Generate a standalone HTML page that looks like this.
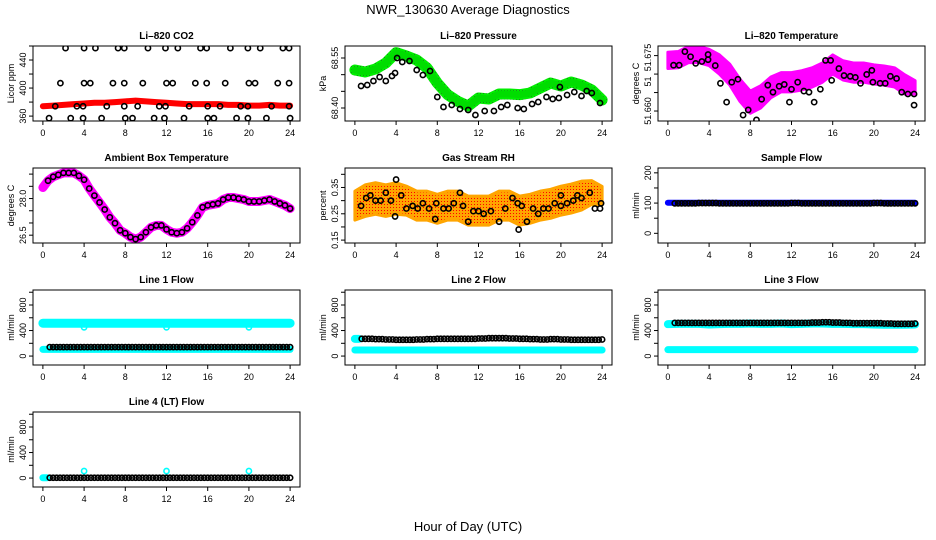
<!DOCTYPE html>
<html><head><meta charset="utf-8"><style>
html,body{margin:0;padding:0;background:#fff;}
svg{display:block;font-family:"Liberation Sans",sans-serif;}
</style></head><body>
<svg id="chart" width="936" height="540" viewBox="0 0 936 540" xmlns="http://www.w3.org/2000/svg">
<defs>
<pattern id="rhpat" width="3" height="3" patternUnits="userSpaceOnUse"><rect width="3" height="3" fill="#ffa500"/><rect width="1" height="1" fill="#ff0000"/></pattern>
<pattern id="grpat" width="3" height="3" patternUnits="userSpaceOnUse"><rect width="3" height="3" fill="#00ee00"/><rect width="1" height="1" fill="#1a8a1a"/></pattern>
</defs>
<text x="468" y="14" font-size="13" text-anchor="middle">NWR_130630  Average Diagnostics</text>
<text x="468" y="531" font-size="13" text-anchor="middle">Hour of Day (UTC)</text>
</svg>
<script>
// ---------- data ----------
const hours = [0,1,2,3,4,5,6,7,8,9,10,11,12,13,14,15,16,17,18,19,20,21,22,23,24];
const xTicks = [0,4,8,12,16,20,24];

const co2Band = [374,375,376,377,378,379,379,380,381,382,381,380,379,378,377,377,377,377,376,376,375,375,376,375,375];
const co2PtsH = [2.2,4.0,5.1,7.3,7.9,10.2,11.9,13.1,15.3,15.9,18.2,19.9,21.1,23.3,23.9, 1.7,4.0,4.6,6.8,7.9,9.7,12.0,12.6,14.8,15.9,17.7,20.0,20.6,22.8,23.9, 1.2,3.3,3.9,6.2,7.9,9.2,11.3,11.9,14.2,16.0,17.2,19.2,19.9,22.2,23.9, 0.6,2.7,3.9,5.7,8.0,8.7,10.8,11.8,13.7,16.0,16.6,18.8,19.9,21.7,24.0];
const co2PtsV = [457,457,457,457,457,457,457,457,457,457,457,457,457,457,457, 407,407,407,407,407,407,407,407,407,407,407,407,407,407,407, 374,374,374,374,374,374,374,374,374,374,374,374,374,374,374, 357,357,357,357,357,357,357,357,357,357,357,357,357,357,357];

const presBand = [68.514,68.508,68.517,68.535,68.566,68.556,68.544,68.520,68.475,68.440,68.420,68.406,68.430,68.427,68.442,68.442,68.440,68.445,68.460,68.475,68.466,68.478,68.469,68.454,68.424];
const presPtsH = [0.6,1.2,1.8,2.4,3,3.6,3.9,4.1,4.6,5.3,6,6.6,7.3,8,8.6,9.4,10.2,11,11.7,12.6,13.5,14.2,14.8,15.8,16.4,17.2,17.8,18.6,19.2,19.8,19.9,20.6,21.3,22,22.5,23,23.8];
const presPtsV = [68.466,68.469,68.481,68.493,68.481,68.496,68.505,68.550,68.538,68.541,68.514,68.499,68.511,68.433,68.403,68.409,68.397,68.394,68.379,68.391,68.391,68.403,68.409,68.400,68.397,68.412,68.418,68.433,68.427,68.430,68.463,68.439,68.448,68.436,68.451,68.445,68.415];

const ltempBand = [51.6737,51.6739,51.6753,51.6753,51.6745,51.6726,51.6699,51.6656,51.6624,51.6638,51.6664,51.6678,51.6678,51.6683,51.6691,51.6704,51.6726,51.6710,51.6704,51.6704,51.6699,51.6696,51.6691,51.6672,51.6664];
const ltempSpread = [0.0022,0.0022,0.0022,0.0022,0.0022,0.0026,0.0028,0.003,0.003,0.003,0.0028,0.0026,0.0026,0.0026,0.0026,0.0026,0.0026,0.0026,0.0026,0.0026,0.0026,0.0026,0.0026,0.0026,0.0018];
const ltempPtsH = [0.55,1.1,1.65,2.2,2.7,3.3,3.9,3.9,4.6,5.1,5.7,6.2,6.8,7.3,7.8,8.6,9.1,9.7,10.2,10.8,11.3,11.8,12,12.6,13.2,13.7,14.2,14.8,15.3,15.8,15.9,16.6,17.1,17.7,18.2,18.7,19.3,19.8,19.9,20.6,21.1,21.6,22.2,22.7,23.3,23.9,23.9];
const ltempPtsV = [51.6724,51.6724,51.6761,51.6747,51.6729,51.6734,51.6753,51.6739,51.6723,51.6675,51.6624,51.6678,51.6686,51.6589,51.6603,51.6576,51.6632,51.6670,51.6651,51.6667,51.6672,51.6624,51.6659,51.6678,51.6654,51.6651,51.6624,51.6659,51.6737,51.6737,51.6683,51.6715,51.6696,51.6694,51.6691,51.6675,51.6699,51.6710,51.6678,51.6675,51.6675,51.6694,51.6688,51.6651,51.6646,51.6646,51.6616];

const ambH = [0,0.5,1,1.5,2,2.5,3,3.5,4,4.5,5,5.5,6,6.5,7,7.5,8,8.5,9,9.5,10,10.5,11,11.5,12,12.5,13,13.5,14,14.5,15,15.5,16,16.5,17,17.5,18,18.5,19,19.5,20,20.5,21,21.5,22,22.5,23,23.5,24];
const ambV = [28.45,28.73,28.89,28.97,29.05,29.05,29.05,28.93,28.77,28.41,28.12,27.84,27.55,27.23,26.99,26.70,26.58,26.42,26.34,26.42,26.62,26.82,26.90,26.90,26.74,26.62,26.58,26.62,26.78,27.03,27.31,27.64,27.72,27.76,27.80,27.96,28.04,28.04,28.00,27.96,27.88,27.88,27.88,27.92,27.96,27.88,27.80,27.72,27.59];

const rhBand = [0.281,0.300,0.308,0.300,0.308,0.300,0.281,0.281,0.269,0.281,0.281,0.262,0.262,0.262,0.281,0.281,0.262,0.269,0.281,0.288,0.300,0.308,0.319,0.331,0.319];
const rhSpread = [0.055,0.06,0.06,0.06,0.06,0.055,0.055,0.055,0.055,0.055,0.055,0.055,0.055,0.055,0.055,0.055,0.055,0.055,0.055,0.055,0.055,0.055,0.055,0.045,0.035];
const rhPtsH = [0.6,1.1,1.5,2,2.5,3,3.5,3.9,4,4.5,5,5.6,6.1,6.6,7.2,7.8,7.9,8.6,9.1,9.6,10.2,10.5,11,11.5,12,12.5,13.2,14,14.6,15.3,15.8,15.9,16.2,16.7,17.3,17.8,18.3,18.8,19.4,20,20,20.6,21.2,21.6,22,22.8,23.3,23.8,23.9];
const rhPtsV = [0.28,0.31,0.32,0.30,0.30,0.33,0.30,0.24,0.38,0.32,0.27,0.28,0.27,0.29,0.27,0.23,0.29,0.27,0.27,0.29,0.33,0.28,0.22,0.26,0.26,0.25,0.26,0.22,0.27,0.31,0.29,0.19,0.28,0.22,0.27,0.25,0.27,0.27,0.29,0.28,0.32,0.29,0.30,0.32,0.31,0.33,0.27,0.27,0.29];

const sampleBand = [101,101,101,101,101,101,101,101,101,101,101,101,101,101,101,101,101,101,101,101,101,101,101,101,101];
const sampleDots = [99,99,99,100,100,99,99,99,99,99,99,99,100,99,99,99,99,99,99,99,100,99,99,99,99];

const l1High = [515,515,515,515,515,515,515,515,515,515,515,515,515,515,515,515,515,515,515,515,515,515,515,515,515];
const l1Low = [105,105,105,105,105,105,105,105,105,105,105,105,105,105,105,105,105,105,105,105,105,105,105,105,105];
const l1Dots = [140,140,140,140,140,140,140,140,140,140,140,140,140,140,140,140,140,140,140,140,140,140,140,140,140];
const l1OutH = [4,12,20];
const l1OutV = [450,450,450];

const l2Low = [95,95,95,95,95,95,95,95,95,95,95,95,95,95,95,95,95,95,95,95,95,95,95,95,95];
const l2Dots = [270,270,265,260,255,255,260,265,270,270,270,270,275,280,280,275,270,265,260,265,260,255,255,255,260];

const l3High = [500,505,505,505,495,500,505,505,510,505,505,510,500,505,510,510,505,505,500,500,495,490,490,490,495];
const l3Low = [100,100,100,100,100,100,100,100,100,100,100,100,100,100,100,100,100,100,100,100,100,100,100,100,100];
const l3Dots = [520,520,520,520,520,520,520,520,520,520,520,520,520,520,525,530,525,520,515,515,515,510,505,505,510];

const l4Dots = [5,5,5,5,5,5,5,5,5,5,5,5,5,5,5,5,5,5,5,5,5,5,5,5,5];
const l4OutH = [4,12,20];
const l4OutV = [110,110,110];

// ---------- layout ----------
const NS = 'http://www.w3.org/2000/svg';
const svg = document.getElementById('chart');
const colL = [33,345,658], rowT = [46,168,290,412], PW = 267, PH = 75;
function mk(tag, attrs, parent){ const e=document.createElementNS(NS,tag); for(const k in attrs) e.setAttribute(k,attrs[k]); (parent||svg).appendChild(e); return e; }

function makePanel(name, col, row, ymin, ymax, yTicks, yLabels, ytitle, title){
  const L=colL[col], T=rowT[row];
  const g = mk('g',{});
  
  
  const xs = h => L + (h+0.96)/25.92*PW;
  const ys = v => T + PH - (v-ymin)/(ymax-ymin)*PH;
  const clip = mk('clipPath',{id:'clip-'+name}, g);
  mk('rect',{x:L,y:T,width:PW,height:PH}, clip);
  const plot = mk('g',{'clip-path':'url(#clip-'+name+')'}, g);
  
  
  const t = mk('text',{x:L+PW/2,y:T-7,'font-size':10,'font-weight':'bold','text-anchor':'middle'}, g);
  t.textContent = title;
  
  
  const box = mk('rect',{x:L,y:T,width:PW,height:PH,fill:'none',stroke:'#000','stroke-width':1}, g);
  
  
  const xa = mk('g',{}, g);
  
  
  mk('line',{x1:xs(xTicks[0]),x2:xs(xTicks[xTicks.length-1]),y1:T+PH,y2:T+PH,stroke:'#000'}, xa);
  xTicks.forEach(v=>{
    mk('line',{x1:xs(v),x2:xs(v),y1:T+PH,y2:T+PH+4,stroke:'#000'}, xa);
    const tl = mk('text',{x:xs(v),y:T+PH+15,'font-size':9,'text-anchor':'middle'}, xa);
    tl.textContent = v;
    
    
  });
  const ya = mk('g',{}, g);
  
  
  mk('line',{x1:L,x2:L,y1:ys(yTicks[0]),y2:ys(yTicks[yTicks.length-1]),stroke:'#000'}, ya);
  yTicks.forEach(v=> mk('line',{x1:L-4,x2:L,y1:ys(v),y2:ys(v),stroke:'#000'}, ya));
  yLabels.forEach(([v,s])=>{
    const tl = mk('text',{x:0,y:0,'font-size':9,'text-anchor':'middle',transform:'translate('+(L-7)+','+ys(v)+') rotate(-90)'}, ya);
    tl.textContent = s;
    
    
  });
  const yt = mk('text',{x:0,y:0,'font-size':9,'text-anchor':'middle',transform:'translate('+(L-19)+','+(T+PH/2)+') rotate(-90)'}, g);
  yt.textContent = ytitle;
  
  
  return {plot, xs, ys};
}

function band(p, H, V, color, w, nm){
  const pl = mk('polyline',{points:H.map((h,i)=>p.xs(h)+','+p.ys(V[i])).join(' '),fill:'none',stroke:color,'stroke-width':w,'stroke-linecap':'round','stroke-linejoin':'round'}, p.plot);
  
  
}
function cloud(p, H, V, S, fill, nm){
  const up = H.map((h,i)=>p.xs(h)+','+p.ys(V[i]+S[i]));
  const dn = H.map((h,i)=>p.xs(h)+','+p.ys(V[i]-S[i])).reverse();
  const pg = mk('polygon',{points:up.concat(dn).join(' '),fill:fill,stroke:fill==='url(#rhpat)'?'#ffa500':'#ff00ff','stroke-width':3,'stroke-linejoin':'round'}, p.plot);
  
  
}
function pts(p, H, V, color, nm, r){
  H.forEach((h,i)=>{
    const c = mk('circle',{cx:p.xs(h),cy:p.ys(V[i]),r:r||2.6,fill:'none',stroke:color,'stroke-width':1.6}, p.plot);
    
    
  });
}
function chain(p, V, color, nm){
  const H=[], W=[];
  for(let k=2;k<=72;k++){ const h=k/3; H.push(h); W.push(V[Math.min(24,Math.floor(h))]); }
  pts(p, H, W, color, nm, 2.6);
}

const flowTicks=[0,200,400,600,800,1000], flowLabels=[[0,'0'],[400,'400'],[800,'800']];

let p = makePanel('co2-panel',0,0,353,460,[360,380,400,420,440,460],[[360,'360'],[400,'400'],[440,'440']],'Licor ppm','Li–820 CO2');
band(p,hours,co2Band,'#ff0000',6,'co2-series');
pts(p,co2PtsH,co2PtsV,'#000','co2-point');

p = makePanel('pressure-panel',1,0,68.361,68.586,[68.40,68.45,68.50,68.55],[[68.40,'68.40'],[68.55,'68.55']],'kPa','Li–820 Pressure');
band(p,hours,presBand,'url(#grpat)',11,'pressure-series');
band(p,hours,presBand,'#00dd00',7,'pressure-series-core');
pts(p,presPtsH,presPtsV,'#000','pressure-point');

p = makePanel('li820-temp-panel',2,0,51.6573,51.6776,[51.660,51.665,51.670,51.675],[[51.660,'51.660'],[51.668,'51'],[51.6745,'51.675']],'degrees C','Li–820 Temperature');
cloud(p,hours,ltempBand,ltempSpread,'#ff00ff','li820-temp-cloud');
pts(p,ltempPtsH,ltempPtsV,'#000','li820-temp-point');

p = makePanel('ambient-temp-panel',0,1,26.18,29.25,[26.5,27.0,27.5,28.0,28.5,29.0],[[26.5,'26.5'],[28.0,'28.0']],'degrees C','Ambient Box Temperature');
band(p,ambH,ambV,'#ff00ff',9,'ambient-temp-series');
pts(p,ambH.slice(1),ambV.slice(1),'#000','ambient-temp-point');

p = makePanel('rh-panel',1,1,0.139,0.424,[0.15,0.20,0.25,0.30,0.35,0.40],[[0.15,'0.15'],[0.25,'0.25'],[0.35,'0.35']],'percent','Gas Stream RH');
cloud(p,hours,rhBand,rhSpread,'url(#rhpat)','rh-cloud');
pts(p,rhPtsH,rhPtsV,'#000','rh-point');

p = makePanel('sample-flow-panel',2,1,-32,216,[0,50,100,150,200],[[0,'0'],[100,'100'],[200,'200']],'ml/min','Sample Flow');
band(p,hours,sampleBand,'#0000ff',6,'sample-flow-series');
chain(p,sampleDots,'#000','sample-flow-point');

p = makePanel('line1-flow-panel',0,2,-140,1035,flowTicks,flowLabels,'ml/min','Line 1 Flow');
band(p,hours,l1High,'#00ffff',9,'line1-high-series');
band(p,hours,l1Low,'#00ffff',7,'line1-low-series');
pts(p,l1OutH,l1OutV,'#00ffff','line1-outlier');
chain(p,l1Dots,'#000','line1-point');

p = makePanel('line2-flow-panel',1,2,-140,1035,flowTicks,flowLabels,'ml/min','Line 2 Flow');
band(p,hours,l2Low,'#00ffff',7,'line2-low-series');
band(p,[0,0.4],[270,270],'#00ffff',8,'line2-start-series');
chain(p,l2Dots,'#000','line2-point');

p = makePanel('line3-flow-panel',2,2,-140,1035,flowTicks,flowLabels,'ml/min','Line 3 Flow');
band(p,hours,l3High,'#00ffff',8,'line3-high-series');
band(p,hours,l3Low,'#00ffff',7,'line3-low-series');
chain(p,l3Dots,'#000','line3-point');

p = makePanel('line4-flow-panel',0,3,-140,1035,flowTicks,flowLabels,'ml/min','Line 4 (LT) Flow');
band(p,[0,0.4],[5,5],'#00ffff',7,'line4-start-series');
pts(p,l4OutH,l4OutV,'#00ffff','line4-outlier');
chain(p,l4Dots,'#000','line4-point');
</script>
</body></html>
